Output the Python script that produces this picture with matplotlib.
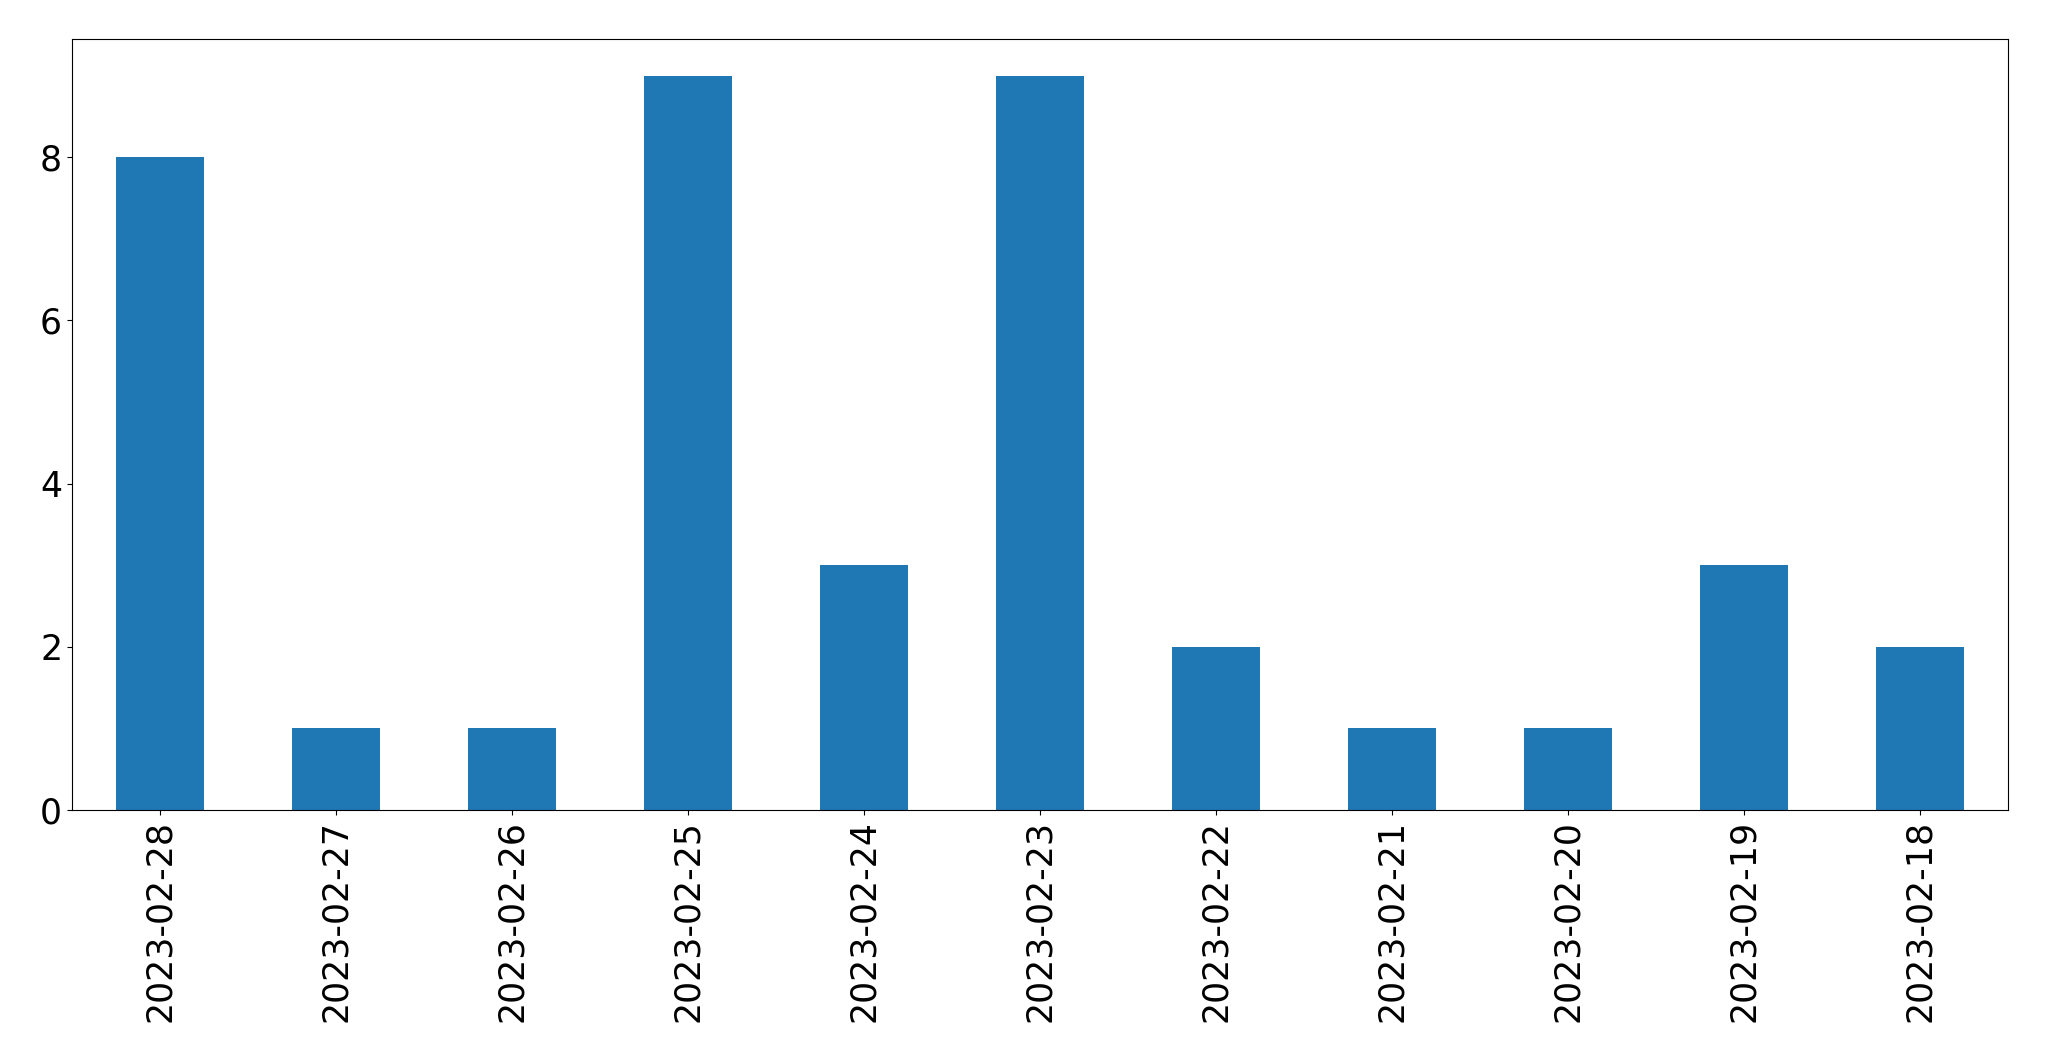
import pandas as pd
import matplotlib
matplotlib.use("Agg")
import matplotlib.pyplot as plt

dates = ["2023-02-28", "2023-02-27", "2023-02-26", "2023-02-25", "2023-02-24",
         "2023-02-23", "2023-02-22", "2023-02-21", "2023-02-20", "2023-02-19",
         "2023-02-18"]
counts = [8, 1, 1, 9, 3, 9, 2, 1, 1, 3, 2]

series = pd.Series(counts, index=dates)

fig = plt.figure(figsize=(20.49, 10.61), dpi=100)
ax = fig.add_axes([0.0351, 0.2366, 0.9449, 0.7266])
series.plot(kind="bar", ax=ax, color="#1f77b4", width=0.5)
ax.set_xlim(-0.5, len(dates) - 0.5)
ax.set_ylim(0, 9.45)
ax.tick_params(axis="both", labelsize=25)
plt.setp(ax.get_xticklabels(), rotation=90)
fig.savefig("out.png", dpi=100)
